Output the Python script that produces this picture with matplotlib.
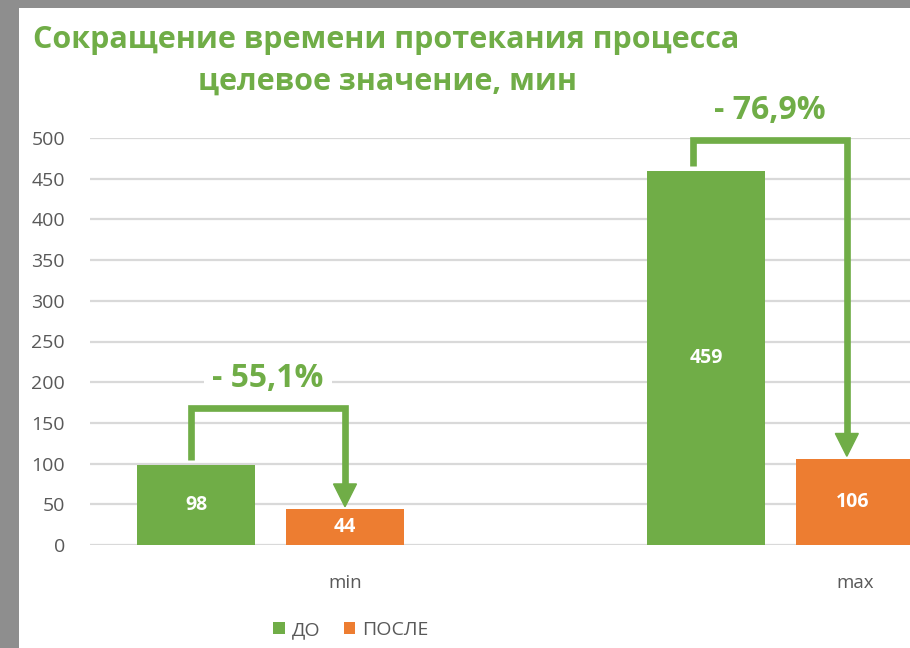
import matplotlib
matplotlib.use('Agg')
import matplotlib.pyplot as plt
from matplotlib.patches import Rectangle

# данные
categories = ['min', 'max']
series_names = ['ДО', 'ПОСЛЕ']
before = [98, 459]
after = [44, 106]
changes = ['- 55,1%', '- 76,9%']
arrow_top = [168, 497]  # уровень горизонтальной части стрелки
arrow_shift = [0.0, -0.016]  # небольшой сдвиг стрелки по x
y_ticks = [0, 50, 100, 150, 200, 250, 300, 350, 400, 450, 500]

green = '#70AD47'
orange = '#ED7D31'
gray_text = '#595959'

plt.rcParams['font.family'] = ['Open Sans', 'DejaVu Sans']

W, H = 910, 648
fig = plt.figure(figsize=(W / 100, H / 100), dpi=100, facecolor='#8e8e8e')
# белая "подложка" скриншота
fig.patches.append(Rectangle((19 / W, 0), 1 - 19 / W, 1 - 8 / H, transform=fig.transFigure,
                             facecolor='white', edgecolor='none', zorder=-10))

ax = fig.add_axes([90 / W, 1 - 545 / H, (W - 90) / W, (545 - 138) / H])
ax.set_facecolor('none')
ax.set_zorder(1)

bar_w = 0.231
step = 0.292
x = list(range(len(categories)))
x_before = [i - step for i in x]
x_after = x

b1 = ax.bar(x_before, before, width=bar_w, color=green, label=series_names[0], zorder=2)
b2 = ax.bar(x_after, after, width=bar_w, color=orange, label=series_names[1], zorder=2)
ax.bar_label(b1, label_type='center', color='white', fontsize=14, fontweight='bold')
ax.bar_label(b2, label_type='center', color='white', fontsize=14, fontweight='bold')

ax.set_xlim(-0.5, -0.5 + (W - 90) / 510)
ax.set_ylim(0, 500)
ax.set_yticks(y_ticks)
ax.set_xticks(x)
ax.set_xticklabels(categories)
ax.grid(axis='y', color='#d9d9d9', linewidth=1.6, zorder=0)
for s in ax.spines.values():
    s.set_visible(False)
ax.tick_params(axis='y', length=0, pad=18, labelsize=14, labelcolor=gray_text)
ax.tick_params(axis='x', length=0, pad=21, labelsize=13.5, labelcolor=gray_text)

# стрелки-уголки
head_half = 0.0225
head_len = 28
for i in range(len(categories)):
    x0 = x_before[i] - 0.01 + arrow_shift[i]
    x1 = x_after[i] + arrow_shift[i]
    y0 = before[i] + 6
    y1 = after[i] + 3
    top = arrow_top[i]
    ax.plot([x0, x0, x1, x1], [y0, top, top, y1 + head_len], color=green, lw=4.8,
            solid_joinstyle='miter', solid_capstyle='butt', zorder=4, clip_on=False)
    ax.fill([x1 - head_half, x1 + head_half, x1], [y1 + head_len, y1 + head_len, y1],
            color=green, zorder=4, clip_on=False)
    ax.text((x0 + x1) / 2, top + 37, changes[i], ha='center', va='center', color=green,
            fontsize=23, fontweight='bold', zorder=5, clip_on=False,
            bbox=dict(facecolor='white', edgecolor='none', pad=6))

fig.text(386 / W, 1 - 40 / H, 'Сокращение времени протекания процесса', ha='center', va='center',
         color=green, fontsize=22, fontweight='bold')
fig.text(387 / W, 1 - 82 / H, 'целевое значение, мин', ha='center', va='center',
         color=green, fontsize=22, fontweight='bold')

fig.legend(handles=[b1, b2], loc='center', bbox_to_anchor=(351 / W, 1 - 630 / H), ncol=2,
           frameon=False, fontsize=14, labelcolor=gray_text, handlelength=0.6, handleheight=0.6,
           handletextpad=0.35, columnspacing=1.2)

fig.savefig('out.png', dpi=100, facecolor=fig.get_facecolor())
